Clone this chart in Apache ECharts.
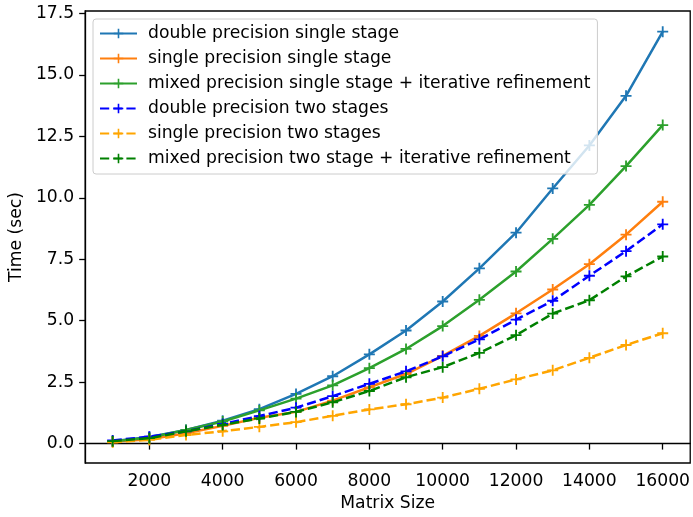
<!DOCTYPE html>
<html>
<head>
<meta charset="utf-8">
<script src="https://cdn.jsdelivr.net/npm/echarts@6/dist/echarts.min.js"></script>
<style>html,body{margin:0;padding:0;background:#fff}#c{width:693px;height:517px}</style>
</head>
<body>
<div id="c"></div>
<script>
const sizes = [1000,2000,3000,4000,5000,6000,7000,8000,9000,10000,11000,12000,13000,14000,15000,16000];
const doubleSingle = [0.10,0.27,0.55,0.93,1.40,2.02,2.74,3.63,4.60,5.78,7.13,8.58,10.38,12.13,14.15,16.76];
const singleSingle = [0.07,0.18,0.42,0.72,1.05,1.29,1.75,2.29,2.83,3.57,4.38,5.30,6.27,7.30,8.50,9.84];
const mixedSingle = [0.08,0.25,0.55,0.90,1.35,1.83,2.37,3.07,3.85,4.78,5.85,7.00,8.33,9.71,11.29,12.96];
const doubleTwo = [0.13,0.28,0.50,0.80,1.12,1.46,1.93,2.43,2.94,3.55,4.24,5.04,5.81,6.83,7.83,8.92];
const singleTwo = [0.05,0.15,0.35,0.50,0.68,0.87,1.13,1.39,1.60,1.87,2.23,2.61,2.98,3.49,4.01,4.49];
const mixedTwo = [0.10,0.22,0.50,0.76,1.02,1.29,1.68,2.14,2.70,3.11,3.69,4.41,5.29,5.83,6.80,7.61];
const xTicks = [2000,4000,6000,8000,10000,12000,14000,16000];
const yTicks = [0,2.5,5,7.5,10,12.5,15,17.5];
const seriesNames = [
  'double precision single stage',
  'single precision single stage',
  'mixed precision single stage + iterative refinement',
  'double precision two stages',
  'single precision two stages',
  'mixed precision two stage + iterative refinement'
];

const FONT = 'DejaVu Sans';
const FS = 17.2;
const plus = 'path://M5,0H7V5H12V7H7V12H5V7H0V5H5Z';
const dash = [9.2, 4];
const defs = [
  {data: doubleSingle, color: '#1f77b4', type: 'solid'},
  {data: singleSingle, color: '#ff7f0e', type: 'solid'},
  {data: mixedSingle, color: '#2ca02c', type: 'solid'},
  {data: doubleTwo, color: '#0000ff', type: dash},
  {data: singleTwo, color: '#ffa500', type: dash},
  {data: mixedTwo, color: '#008000', type: dash}
];

const chart = echarts.init(document.getElementById('c'), null, {renderer: 'canvas'});
chart.setOption({
  animation: false,
  backgroundColor: '#fff',
  grid: {left: 84, top: 11, right: -3, bottom: 51, show: true, borderColor: '#000', borderWidth: 1.3},
  legend: {
    orient: 'vertical', left: 93, top: 19,
    itemWidth: 37, itemHeight: 12, itemGap: 8,
    padding: [6, 7, 7, 6],
    backgroundColor: 'rgba(255,255,255,0.8)',
    borderColor: '#cccccc', borderWidth: 1, borderRadius: 3,
    textStyle: {fontFamily: FONT, fontSize: FS, color: '#000', lineHeight: 17, padding: [0,0,0,6]},
    data: seriesNames
  },
  xAxis: {
    type: 'value', min: 250, max: 16750,
    name: 'Matrix Size', nameLocation: 'middle', nameGap: 32,
    nameTextStyle: {fontFamily: FONT, fontSize: FS, color: '#000'},
    axisLine: {show: true, lineStyle: {color: '#000', width: 1.3}},
    axisTick: {show: true, inside: false, length: 6, customValues: xTicks, lineStyle: {color: '#000', width: 1.3}},
    axisLabel: {customValues: xTicks, margin: 10, fontFamily: FONT, fontSize: FS, color: '#000',
      formatter: v => String(v)},
    splitLine: {show: false}
  },
  yAxis: {
    type: 'value', min: -0.79, max: 17.6,
    name: 'Time (sec)', nameLocation: 'middle', nameGap: 56, nameRotate: 90,
    nameTextStyle: {fontFamily: FONT, fontSize: FS, color: '#000'},
    axisLine: {show: true, lineStyle: {color: '#000', width: 1.3}},
    axisTick: {show: true, inside: false, length: 6, customValues: yTicks, lineStyle: {color: '#000', width: 1.3}},
    axisLabel: {customValues: yTicks, margin: 11, fontFamily: FONT, fontSize: FS, color: '#000',
      formatter: v => Number(v).toFixed(1)},
    splitLine: {show: false}
  },
  series: defs.map((d, i) => ({
    name: seriesNames[i],
    type: 'line',
    data: sizes.map((x, j) => [x, d.data[j]]),
    symbol: plus, symbolSize: 11, showSymbol: true,
    itemStyle: {color: d.color},
    lineStyle: {color: d.color, width: 2.5, type: d.type},
    emphasis: {disabled: true},
    z: 2 + i
  }))
});
</script>
</body>
</html>
